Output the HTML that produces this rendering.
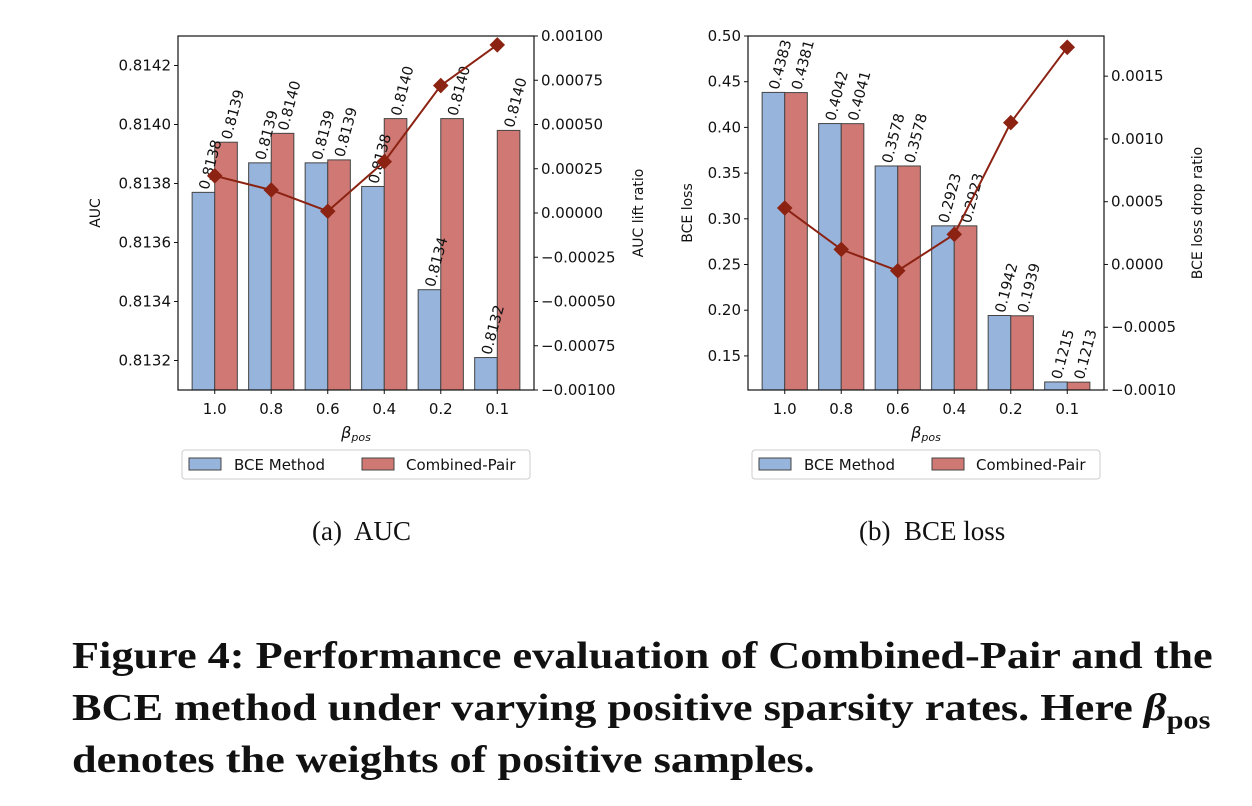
<!DOCTYPE html>
<html><head><meta charset="utf-8"><style>
body{margin:0;background:#fff;width:1252px;height:806px;overflow:hidden;font-family:"Liberation Sans","DejaVu Sans",sans-serif}
svg{position:absolute;left:0;top:0}
.cap{position:absolute;font-family:"Liberation Serif",serif;font-size:27px;color:#111}
#fig{position:absolute;left:72px;top:630px;width:1000px;font-family:"Liberation Serif",serif;font-weight:bold;font-size:38px;line-height:52px;color:#111;white-space:nowrap;transform:scaleX(1.165);transform-origin:0 0}
#fig sub{font-size:26px;line-height:0}
</style></head><body>
<svg id="chart" width="1252" height="806" font-family="DejaVu Sans, Liberation Sans, sans-serif"></svg>
<div class="cap" style="left:312px;top:516px">(a)&nbsp; AUC</div>
<div class="cap" style="left:859px;top:516px">(b)&nbsp; BCE loss</div>
<div id="fig">Figure 4: Performance evaluation of Combined-Pair and the<br>BCE method under varying positive sparsity rates. Here <i>β</i><sub>pos</sub><br>denotes the weights of positive samples.</div>
<script>
const categories=["1.0","0.8","0.6","0.4","0.2","0.1"];
const aucBce=[0.81377,0.81387,0.81387,0.81379,0.81344,0.81321];
const aucPair=[0.81394,0.81397,0.81388,0.81402,0.81402,0.81398];
const aucBceLbl=["0.8138","0.8139","0.8139","0.8138","0.8134","0.8132"];
const aucPairLbl=["0.8139","0.8140","0.8139","0.8140","0.8140","0.8140"];
const aucLift=[0.00021,0.00013,0.00001,0.00029,0.00072,0.00095];
const aucTicks=[0.8132,0.8134,0.8136,0.8138,0.8140,0.8142];
const aucRTicks=[-0.001,-0.00075,-0.0005,-0.00025,0,0.00025,0.0005,0.00075,0.001];
const lossBce=[0.4383,0.4042,0.3578,0.2923,0.1942,0.1215];
const lossPair=[0.4381,0.4041,0.3578,0.2923,0.1939,0.1213];
const lossDrop=[0.00045,0.00012,-0.00005,0.00024,0.00113,0.00173];
const lossTicks=[0.15,0.20,0.25,0.30,0.35,0.40,0.45,0.50];
const lossRTicks=[-0.001,-0.0005,0,0.0005,0.001,0.0015];
const NS="http://www.w3.org/2000/svg";
const svg=document.getElementById('chart');
function el(t,a,p){const e=document.createElementNS(NS,t);for(const k in a)e.setAttribute(k,a[k]);(p||svg).appendChild(e);return e;}
function txt(s,a,p){const e=el('text',a,p);e.textContent=s;return e;}
function chart(o){
 const g=el('g',{});
 
 
 const L=o.L,R=o.R,T=36,B=390;
 const y=v=>B-(v-o.ymin)/(o.ymax-o.ymin)*(B-T);
 const y2=v=>B-(v-o.rmin)/(o.rmax-o.rmin)*(B-T);
 const step=(R-L)/6.3, x0=L+step*0.65, bw=step*0.4;
 const cx=i=>x0+i*step;
 for(let i=0;i<6;i++){
  const b=el('rect',{x:cx(i)-bw,y:y(o.bce[i]),width:bw,height:B-y(o.bce[i]),fill:'#97b4dd',stroke:'#444','stroke-width':1},g);
  
  
  const r=el('rect',{x:cx(i),y:y(o.pair[i]),width:bw,height:B-y(o.pair[i]),fill:'#cf7874',stroke:'#444','stroke-width':1},g);
  
  
  [[cx(i)-bw/2,y(o.bce[i]),o.bl[i]],[cx(i)+bw/2,y(o.pair[i]),o.pl[i]]].forEach(q=>{
   const t=txt(q[2],{x:0,y:0,'font-size':14.5,transform:`translate(${q[0]+5},${q[1]-2}) rotate(-75)`,fill:'#111'},g);
   
   
  });
  txt(categories[i],{x:cx(i),y:B+24,'font-size':15,'text-anchor':'middle',fill:'#111'},g);
  el('line',{x1:cx(i),x2:cx(i),y1:B,y2:B+4,stroke:'#111'},g);
 }
 el('polyline',{points:o.line.map((v,i)=>cx(i)+','+y2(v)).join(' '),fill:'none',stroke:'#8b2212','stroke-width':2},g);
 o.line.forEach((v,i)=>{const m=el('rect',{x:cx(i)-5.5,y:y2(v)-5.5,width:11,height:11,fill:'#8b2212',transform:`rotate(45 ${cx(i)} ${y2(v)})`},g);
  
  });
 el('rect',{x:L,y:T,width:R-L,height:B-T,fill:'none',stroke:'#111','stroke-width':1.2},g);
 o.lt.forEach(v=>{el('line',{x1:L-4,x2:L,y1:y(v),y2:y(v),stroke:'#111'},g);txt(o.lf(v),{x:L-7,y:y(v)+5,'font-size':15,'text-anchor':'end',fill:'#111'},g);});
 o.rt.forEach(v=>{el('line',{x1:R,x2:R+4,y1:y2(v),y2:y2(v),stroke:'#111'},g);txt(o.rf(v),{x:R+7,y:y2(v)+5,'font-size':15,fill:'#111'},g);});
 txt(o.yl,{x:0,y:0,'font-size':14,'text-anchor':'middle',transform:`translate(${o.ylx},213) rotate(-90)`,fill:'#111'},g);
 txt(o.yr,{x:0,y:0,'font-size':14,'text-anchor':'middle',transform:`translate(${o.yrx},213) rotate(-90)`,fill:'#111'},g);
 const xl=txt('',{x:(L+R)/2,y:B+48,'font-size':16,'text-anchor':'middle',fill:'#111','font-style':'italic'},g);
 xl.innerHTML='β<tspan font-size="11" dy="3">pos</tspan>';
 const lx=L+4,lg=el('g',{},g);
 
 
 el('rect',{x:lx,y:450,width:R-L-8,height:29,rx:3,fill:'#fff',stroke:'#ccc'},lg);
 el('rect',{x:lx+7,y:458,width:32,height:12,fill:'#97b4dd',stroke:'#444'},lg);
 txt('BCE Method',{x:lx+52,y:470,'font-size':15,fill:'#111'},lg);
 el('rect',{x:lx+180,y:458,width:32,height:12,fill:'#cf7874',stroke:'#444'},lg);
 txt('Combined-Pair',{x:lx+224,y:470,'font-size':15,fill:'#111'},lg);
}
const fmtR=d=>v=>(v<0?'\u2212':'')+Math.abs(v).toFixed(d);
chart({name:'auc-chart',L:178,R:534,ymin:0.81310,ymax:0.81430,rmin:-0.001,rmax:0.001,bce:aucBce,pair:aucPair,bl:aucBceLbl,pl:aucPairLbl,line:aucLift,lt:aucTicks,rt:aucRTicks,lf:v=>v.toFixed(4),rf:fmtR(5),yl:'AUC',ylx:100,yr:'AUC lift ratio',yrx:643});
chart({name:'bce-loss-chart',L:748,R:1104,ymin:0.1127,ymax:0.50,rmin:-0.001,rmax:0.00182,bce:lossBce,pair:lossPair,bl:lossBce.map(v=>v.toFixed(4)),pl:lossPair.map(v=>v.toFixed(4)),line:lossDrop,lt:lossTicks,rt:lossRTicks,lf:v=>v.toFixed(2),rf:fmtR(4),yl:'BCE loss',ylx:692,yr:'BCE loss drop ratio',yrx:1202});
</script>
</body></html>
